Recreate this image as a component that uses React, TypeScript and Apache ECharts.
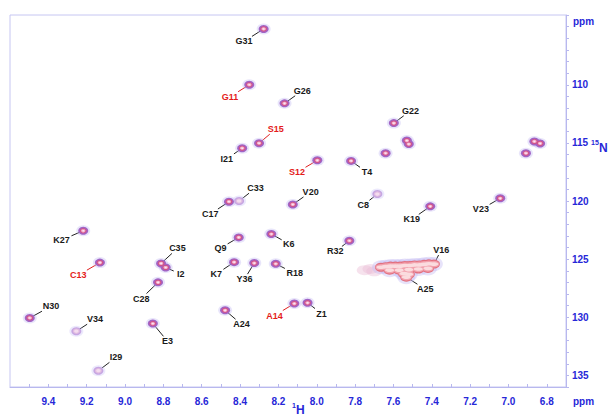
import React, { useEffect, useRef } from 'react';
import * as echarts from 'echarts';

// Assigned residues: 1H (ppm), 15N (ppm), and label anchor positions (ppm)
const residues = ['Z1', 'I2', 'E3', 'T4', 'K6', 'K7', 'C8', 'Q9', 'G11', 'S12', 'C13', 'A14', 'S15', 'V16', 'C17', 'R18', 'K19', 'V20', 'I21', 'G22', 'V23', 'A24', 'A25', 'G26', 'K27', 'C28', 'I29', 'N30', 'G31', 'R32', 'C33', 'V34', 'C35', 'Y36'];
const peakH = [8.048, 8.788, 8.855, 7.821, 8.237, 8.431, 7.684, 8.407, 8.352, 7.997, 9.131, 8.117, 8.301, 7.389, 8.458, 8.214, 7.408, 8.125, 8.389, 7.598, 7.043, 8.478, 7.533, 8.168, 9.218, 8.828, 9.139, 9.497, 8.277, 7.830, 8.405, 9.254, 8.812, 8.326];
const peakN = [128.76, 125.72, 130.54, 116.55, 122.84, 125.26, 119.40, 123.13, 110.00, 116.50, 125.30, 128.82, 115.03, 125.43, 120.06, 125.40, 120.46, 120.30, 115.46, 113.30, 119.77, 129.40, 126.55, 111.60, 122.56, 127.00, 134.60, 130.06, 105.20, 123.42, 120.00, 131.20, 125.37, 125.34];
const labelH = [7.975, 8.709, 8.778, 7.738, 8.146, 8.524, 7.758, 8.502, 8.452, 8.103, 9.244, 8.220, 8.214, 7.351, 8.555, 8.115, 7.505, 8.032, 8.470, 7.511, 7.144, 8.393, 7.434, 8.076, 9.331, 8.915, 9.047, 9.386, 8.379, 7.903, 8.320, 9.157, 8.727, 8.377];
const labelN = [129.68, 126.29, 132.07, 117.53, 123.68, 126.29, 120.37, 124.05, 111.03, 117.53, 126.38, 129.85, 113.82, 124.22, 121.12, 126.23, 121.58, 119.22, 116.38, 112.24, 120.72, 130.60, 127.59, 110.52, 123.36, 128.39, 133.45, 129.05, 106.27, 124.34, 118.90, 130.17, 124.08, 126.72];
const redResidues = ['G11', 'S12', 'C13', 'A14', 'S15'];
const weakResidues = ['C8', 'C33', 'V34', 'I29'];
const overlapResidues = ['V16', 'A25'];

// Unassigned peaks
const extraH = [7.530, 7.520, 7.641, 6.865, 6.835, 6.909];
const extraN = [114.80, 115.10, 115.89, 114.88, 115.05, 115.89];

// Overlapped region (V16 / A25 cluster)
const clusterH = [7.665, 7.640, 7.615, 7.590, 7.565, 7.540, 7.515, 7.490, 7.465, 7.440, 7.415, 7.620, 7.570, 7.520, 7.470, 7.420, 7.545, 7.520];
const clusterN = [125.70, 125.65, 125.60, 125.60, 125.60, 125.55, 125.55, 125.50, 125.50, 125.45, 125.40, 125.95, 125.95, 125.90, 125.85, 125.80, 126.25, 126.30];
// faint shoulder to the left of the cluster
const shoulderH = [7.720, 7.750, 7.700];
const shoulderN = [125.85, 125.95, 126.05];

// Axis tick labels
const hTickLabels = ['9.4', '9.2', '9.0', '8.8', '8.6', '8.4', '8.2', '8.0', '7.8', '7.6', '7.4', '7.2', '7.0', '6.8'];
const nTickLabels = ['110', '115', '120', '125', '130', '135'];

const FONT = '"Liberation Sans", Arial, Helvetica, sans-serif';
const BLUE = '#2727d8';
const AXIS = '#b8b8ee';

export default function App() {
  const ref = useRef<HTMLDivElement>(null);
  useEffect(() => {
    if (!ref.current) return;
    const chart = echarts.init(ref.current, undefined, { renderer: 'svg' });

    const strong: number[][] = [];
    const weak: number[][] = [];
    residues.forEach((r, i) => {
      if (overlapResidues.includes(r)) return;
      (weakResidues.includes(r) ? weak : strong).push([peakH[i], peakN[i]]);
    });
    extraH.forEach((h, i) => strong.push([h, extraN[i]]));
    const cluster: number[][] = clusterH.map((h, i) => [h, clusterN[i]]);
    residues.forEach((r, i) => {
      if (overlapResidues.includes(r)) cluster.push([peakH[i], peakN[i]]);
    });
    const shoulder: number[][] = shoulderH.map((h, i) => [h, shoulderN[i]]);

    const layer = (data: number[][], size: number[], color: string, z: number) => ({
      type: 'scatter',
      data,
      symbol: 'circle',
      symbolSize: size,
      itemStyle: { color, opacity: 1 },
      silent: true,
      z,
      emphasis: { disabled: true },
    });

    const labelData = residues.map((r, i) => [peakH[i], peakN[i], labelH[i], labelN[i]]);

    const lineSeries = {
      type: 'custom',
      data: labelData,
      encode: { x: [0, 2], y: [1, 3] },
      z: 1,
      silent: true,
      clip: false,
      renderItem: (params: any, api: any) => {
        const p = api.coord([api.value(0), api.value(1)]);
        const c = api.coord([api.value(2), api.value(3)]);
        const name = residues[params.dataIndex];
        const hw = name.length * 2.8 + 1.5;
        const hh = 5;
        const dx = p[0] - c[0];
        const dy = p[1] - c[1];
        const sx = Math.abs(dx) > 1e-6 ? hw / Math.abs(dx) : Infinity;
        const sy = Math.abs(dy) > 1e-6 ? hh / Math.abs(dy) : Infinity;
        const s = Math.min(sx, sy);
        const ex = c[0] + dx * s;
        const ey = c[1] + dy * s;
        const red = redResidues.includes(name);
        return {
          type: 'line',
          shape: { x1: p[0], y1: p[1], x2: ex, y2: ey },
          style: { stroke: red ? '#e02020' : '#222', lineWidth: 1 },
        };
      },
    };

    const textSeries = {
      type: 'custom',
      data: labelData,
      encode: { x: [0, 2], y: [1, 3] },
      z: 20,
      silent: true,
      clip: false,
      renderItem: (params: any, api: any) => {
        const c = api.coord([api.value(2), api.value(3)]);
        const name = residues[params.dataIndex];
        const red = redResidues.includes(name);
        return {
          type: 'text',
          x: c[0],
          y: c[1],
          style: {
            text: name,
            fill: red ? '#e41b1b' : '#1a1a1a',
            fontSize: 9,
            fontWeight: 'bold',
            fontFamily: FONT,
            align: 'center',
            verticalAlign: 'middle',
          },
        };
      },
    };

    const option: any = {
      animation: false,
      backgroundColor: '#ffffff',
      grid: {
        left: 10,
        right: 45,
        top: 15,
        bottom: 31,
        show: true,
        borderColor: '#c6c6f2',
        borderWidth: 1,
        backgroundColor: '#ffffff',
      },
      xAxis: {
        type: 'value',
        min: 6.7,
        max: 9.6,
        interval: 0.1,
        inverse: true,
        axisLine: { show: true, lineStyle: { color: AXIS, width: 1 } },
        axisTick: { show: true, inside: true, length: 3, lineStyle: { color: AXIS } },
        splitLine: { show: false },
        axisLabel: {
          color: BLUE,
          fontWeight: 'bold',
          fontSize: 10,
          fontFamily: FONT,
          margin: 9,
          showMinLabel: false,
          showMaxLabel: false,
          formatter: (v: number) => {
            const s = (Math.round(v * 10) / 10).toFixed(1);
            return hTickLabels.includes(s) ? s : '';
          },
        },
      },
      yAxis: {
        type: 'value',
        position: 'right',
        min: 104,
        max: 136,
        interval: 1,
        inverse: true,
        axisLine: { show: true, lineStyle: { color: AXIS, width: 1 } },
        axisTick: { show: true, inside: false, length: 3, lineStyle: { color: AXIS } },
        splitLine: { show: false },
        axisLabel: {
          color: BLUE,
          fontWeight: 'bold',
          fontSize: 10,
          fontFamily: FONT,
          margin: 6,
          formatter: (v: number) => {
            const s = String(Math.round(v));
            return nTickLabels.includes(s) ? s : '';
          },
        },
      },
      graphic: [
        { type: 'text', x: 573, y: 21, style: { text: 'ppm', fill: BLUE, fontSize: 10, fontWeight: 'bold', fontFamily: FONT, align: 'left', verticalAlign: 'middle' } },
        { type: 'text', x: 573, y: 401, style: { text: 'ppm', fill: BLUE, fontSize: 10, fontWeight: 'bold', fontFamily: FONT, align: 'left', verticalAlign: 'middle' } },
        { type: 'text', x: 292, y: 405, style: { text: '1', fill: BLUE, fontSize: 7, fontWeight: 'bold', fontFamily: FONT, align: 'left', verticalAlign: 'middle' } },
        { type: 'text', x: 296, y: 410, style: { text: 'H', fill: BLUE, fontSize: 12, fontWeight: 'bold', fontFamily: FONT, align: 'left', verticalAlign: 'middle' } },
        { type: 'text', x: 591, y: 142, style: { text: '15', fill: BLUE, fontSize: 7, fontWeight: 'bold', fontFamily: FONT, align: 'left', verticalAlign: 'middle' } },
        { type: 'text', x: 599, y: 148, style: { text: 'N', fill: BLUE, fontSize: 12, fontWeight: 'bold', fontFamily: FONT, align: 'left', verticalAlign: 'middle' } },
      ],
      series: [
        lineSeries,
        // halos
        layer(shoulder, [16, 10], 'rgba(235,190,215,0.45)', 2),
        layer(strong, [14, 11], 'rgba(190,180,242,0.35)', 2),
        layer(weak, [14, 11], 'rgba(200,192,245,0.35)', 2),
        layer(cluster, [18, 14], 'rgba(195,185,243,0.4)', 2),
        // outer contours
        layer(strong, [10, 8], '#a064c6', 3),
        layer(weak, [10, 8], '#c6a6e2', 3),
        layer(cluster, [12, 9], '#e2707f', 3),
        // inner contours
        layer(strong, [7, 5.4], '#d0548a', 4),
        layer(weak, [7, 5.4], '#e2bce0', 4),
        layer(cluster, [11, 6.6], '#f2a2ae', 4),
        // centres
        layer(strong, [4.4, 3.2], '#f3afcb', 5),
        layer(weak, [4.4, 3.2], '#f4dcef', 5),
        layer(cluster, [9, 3.6], '#fbdcdf', 5),
        layer(strong, [2, 1.4], '#fde8f1', 6),
        textSeries,
      ],
    };
    chart.setOption(option);
    return () => chart.dispose();
  }, []);
  return <div ref={ref} style={{ position: 'fixed', left: 0, top: 0, width: 611, height: 418, background: '#fff' }} />;
}
